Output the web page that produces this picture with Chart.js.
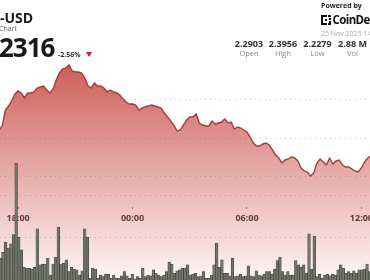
<!DOCTYPE html>
<html>
<head>
<meta charset="utf-8">
<script src="https://cdn.jsdelivr.net/npm/chart.js@4.4.0/dist/chart.umd.min.js"></script>
<style>
html,body{margin:0;padding:0;background:#fff;overflow:hidden}
#wrap{position:relative;width:370px;height:280px;overflow:hidden;font-family:'Open Sans',sans-serif}
#wrap canvas{position:absolute;left:0;top:0}
.t{position:absolute;white-space:nowrap;line-height:1}
.stat{position:absolute;width:44px;text-align:center;line-height:1;white-space:nowrap}
</style>
</head>
<body>
<div id="wrap">
  <canvas id="chart-price" width="370" height="280"></canvas>
  <div class="t" style="left:0;top:10.6px;font-size:14px;font-weight:700;color:#1a1a1a">-USD</div>
  <div class="t" style="left:-1px;top:24.5px;font-size:7px;color:#666">Chart</div>
  <div class="t" style="left:-1px;top:34px;font-size:26px;font-weight:700;color:#1a1a1a;letter-spacing:-1px">2316</div>
  <div class="t" style="left:58px;top:50.5px;font-size:7px;font-weight:700;color:#333">-2.56%</div>
  <div style="position:absolute;left:86px;top:52px;width:0;height:0;border-left:3px solid transparent;border-right:3px solid transparent;border-top:5px solid #c4262b"></div>

  <div class="t" style="left:321px;top:2.3px;font-size:7px;font-weight:700;color:#222">Powered by</div>
  <svg style="position:absolute;left:321px;top:15px" width="10" height="10" viewBox="0 0 10 10">
    <path d="M0 0H6V2H2V8H6V10H0Z" fill="#111"/><rect x="7" y="0" width="3" height="2" fill="#111"/>
    <rect x="8" y="3" width="2" height="2" fill="#111"/><rect x="8" y="6" width="2" height="2" fill="#111"/>
    <rect x="7" y="8" width="3" height="2" fill="#111"/><rect x="4" y="4" width="2" height="2" fill="#111"/>
  </svg>
  <div class="t" style="left:332.5px;top:14px;font-size:11.5px;font-weight:700;color:#111;letter-spacing:-0.6px">CoinDesk</div>
  <div class="t" style="left:321px;top:29.8px;font-size:7px;color:#aaa">25 Nov 2025 14</div>

  <div class="stat" style="left:227px;top:39.3px;font-size:9px;font-weight:700;color:#333">2.2903</div>
  <div class="stat" style="left:261px;top:39.3px;font-size:9px;font-weight:700;color:#333">2.3956</div>
  <div class="stat" style="left:295.5px;top:39.3px;font-size:9px;font-weight:700;color:#333">2.2279</div>
  <div class="stat" style="left:330.5px;top:39.3px;font-size:9px;font-weight:700;color:#333">2.88 M</div>
  <div class="stat" style="left:227px;top:49.8px;font-size:7.5px;color:#888">Open</div>
  <div class="stat" style="left:261px;top:49.8px;font-size:7.5px;color:#888">High</div>
  <div class="stat" style="left:295.5px;top:49.8px;font-size:7.5px;color:#888">Low</div>
  <div class="stat" style="left:330.5px;top:49.8px;font-size:7.5px;color:#888">Vol</div>
</div>
<script>
// price, one point every 10 min, minutes counted from 18:00
const PRICE_START = -60, PRICE_STEP = 10;
const PRICE = [
  2.3110,2.3162,2.3370,2.3422,2.3487,2.3578,2.3617,2.3591,2.3526,2.3591,
  2.3591,2.3604,2.3656,2.3669,2.3682,2.3630,2.3591,2.3643,2.3760,2.3851,
  2.3903,2.3916,2.3955,2.3877,2.3864,2.3864,2.3851,2.3786,2.3682,2.3656,
  2.3721,2.3682,2.3682,2.3656,2.3604,2.3630,2.3604,2.3591,2.3565,2.3513,
  2.3474,2.3448,2.3448,2.3435,2.3370,2.3396,2.3409,2.3422,2.3435,2.3422,
  2.3409,2.3396,2.3331,2.3279,2.3227,2.3175,2.3097,2.3110,2.3175,2.3240,
  2.3279,2.3279,2.3318,2.3201,2.3175,2.3162,2.3162,2.3227,2.3188,2.3201,
  2.3214,2.3253,2.3201,2.3214,2.3123,2.3149,2.3136,2.3110,2.3084,2.3019,
  2.2942,2.2903,2.2903,2.2929,2.2942,2.2916,2.2851,2.2786,2.2747,2.2682,
  2.2721,2.2734,2.2760,2.2747,2.2708,2.2617,2.2578,2.2565,2.2513,2.2552,
  2.2682,2.2734,2.2695,2.2656,2.2747,2.2669,2.2708,2.2721,2.2656,2.2630,
  2.2630,2.2604,2.2578,2.2565,2.2617,2.2695,2.2747,2.2773
];

// volume bars (thousands)
const VOL_START = -56, VOL_STEP = 8.3;
const VOLUME = [
  26,33,45,38,43,54,139,51,36,15, 14,14,13,15,61,18,19,19,26,6,
  19,27,63,19,20,24,10,15,13,12, 6,11,61,51,2,14,13,2,6,4,
  7,7,2,6,2,2,5,10,5,2, 7,1,4,2,14,4,6,5,12,8,
  6,4,6,10,21,19,8,11,12,14, 14,18,6,7,8,4,5,10,2,2,
  6,18,44,15,24,8,8,5,26,4, 5,7,4,5,17,5,4,11,6,5,
  7,10,10,7,13,23,27,10,6,10, 6,6,23,18,15,18,8,55,13,52,
  4,7,2,6,7,5,7,6,12,18, 14,8,10,8,11,8,12,12,13,19, 10
];

const TIME_TICKS = [0, 360, 720, 1080];
const TIME_LABELS = ['18:00', '00:00', '06:00', '12:00'];
const PRICE_GRID = [2.25, 2.30, 2.35];
const VOL_GRID = [50, 100];

const pricePts = PRICE.map((p,i)=>({x:PRICE_START+i*PRICE_STEP, y:p}));
const volPts = VOLUME.map((v,i)=>({x:VOL_START+i*VOL_STEP, y:v}));

function areaFill(c) {
  const ch = c.chart, a = ch.chartArea;
  if(!a) return 'rgba(200,75,70,0.5)';
  const top = ch.scales.y.getPixelForValue(Math.max(...PRICE));
  const g = ch.ctx.createLinearGradient(0, top, 0, a.bottom);
  g.addColorStop(0, 'rgba(198,72,66,0.88)');
  g.addColorStop(1, 'rgba(205,80,75,0.05)');
  return g;
}

const dotted = {color:'#c4c4c4', drawTicks:false, lineWidth:1};

new Chart(document.getElementById('chart-price').getContext('2d'), {
  type:'bar',
  data:{datasets:[
    {type:'bar', data:volPts, xAxisID:'x', yAxisID:'yv', order:1,
     backgroundColor:'#72756c', borderColor:'#3b3d39', borderWidth:0.6,
     barPercentage:1, categoryPercentage:1, grouped:false},
    {type:'line', data:pricePts, xAxisID:'x', yAxisID:'y', order:2,
     borderColor:'#a23e39', borderWidth:1.4, pointRadius:0, tension:0,
     fill:'start', backgroundColor:areaFill}
  ]},
  options:{
    responsive:false, animation:false, devicePixelRatio:1,
    layout:{padding:0, autoPadding:false},
    plugins:{legend:{display:false}, tooltip:{enabled:false}},
    scales:{
      x:{type:'linear', min:-57, max:1107, offset:false, position:{y:2.2104},
         grid:{offset:false, drawOnChartArea:false, drawTicks:true, tickLength:2, color:'#888'},
         border:{display:false},
         afterBuildTicks:s=>{ s.ticks = TIME_TICKS.map(v=>({value:v})); },
         afterFit:s=>{ s.paddingLeft = 0; s.paddingRight = 0; },
         ticks:{padding:4, autoSkip:false, maxRotation:0, color:'#333',
                font:{family:'Open Sans', weight:'bold', size:9},
                callback:v=>TIME_LABELS[TIME_TICKS.indexOf(v)]}},
      y:{type:'linear', position:'left', min:2.11623, max:2.47987, grid:dotted,
         border:{display:false, dash:[1,4]}, ticks:{display:false},
         afterBuildTicks:s=>{ s.ticks = PRICE_GRID.map(v=>({value:v})); },
         afterFit:s=>{ s.width = 0; }},
      yv:{type:'linear', position:'left', min:0, max:333.3, grid:dotted,
          border:{display:false, dash:[1,4]}, ticks:{display:false},
          afterBuildTicks:s=>{ s.ticks = VOL_GRID.map(v=>({value:v})); },
          afterFit:s=>{ s.width = 0; }}
    }
  }
});
</script>
</body>
</html>
